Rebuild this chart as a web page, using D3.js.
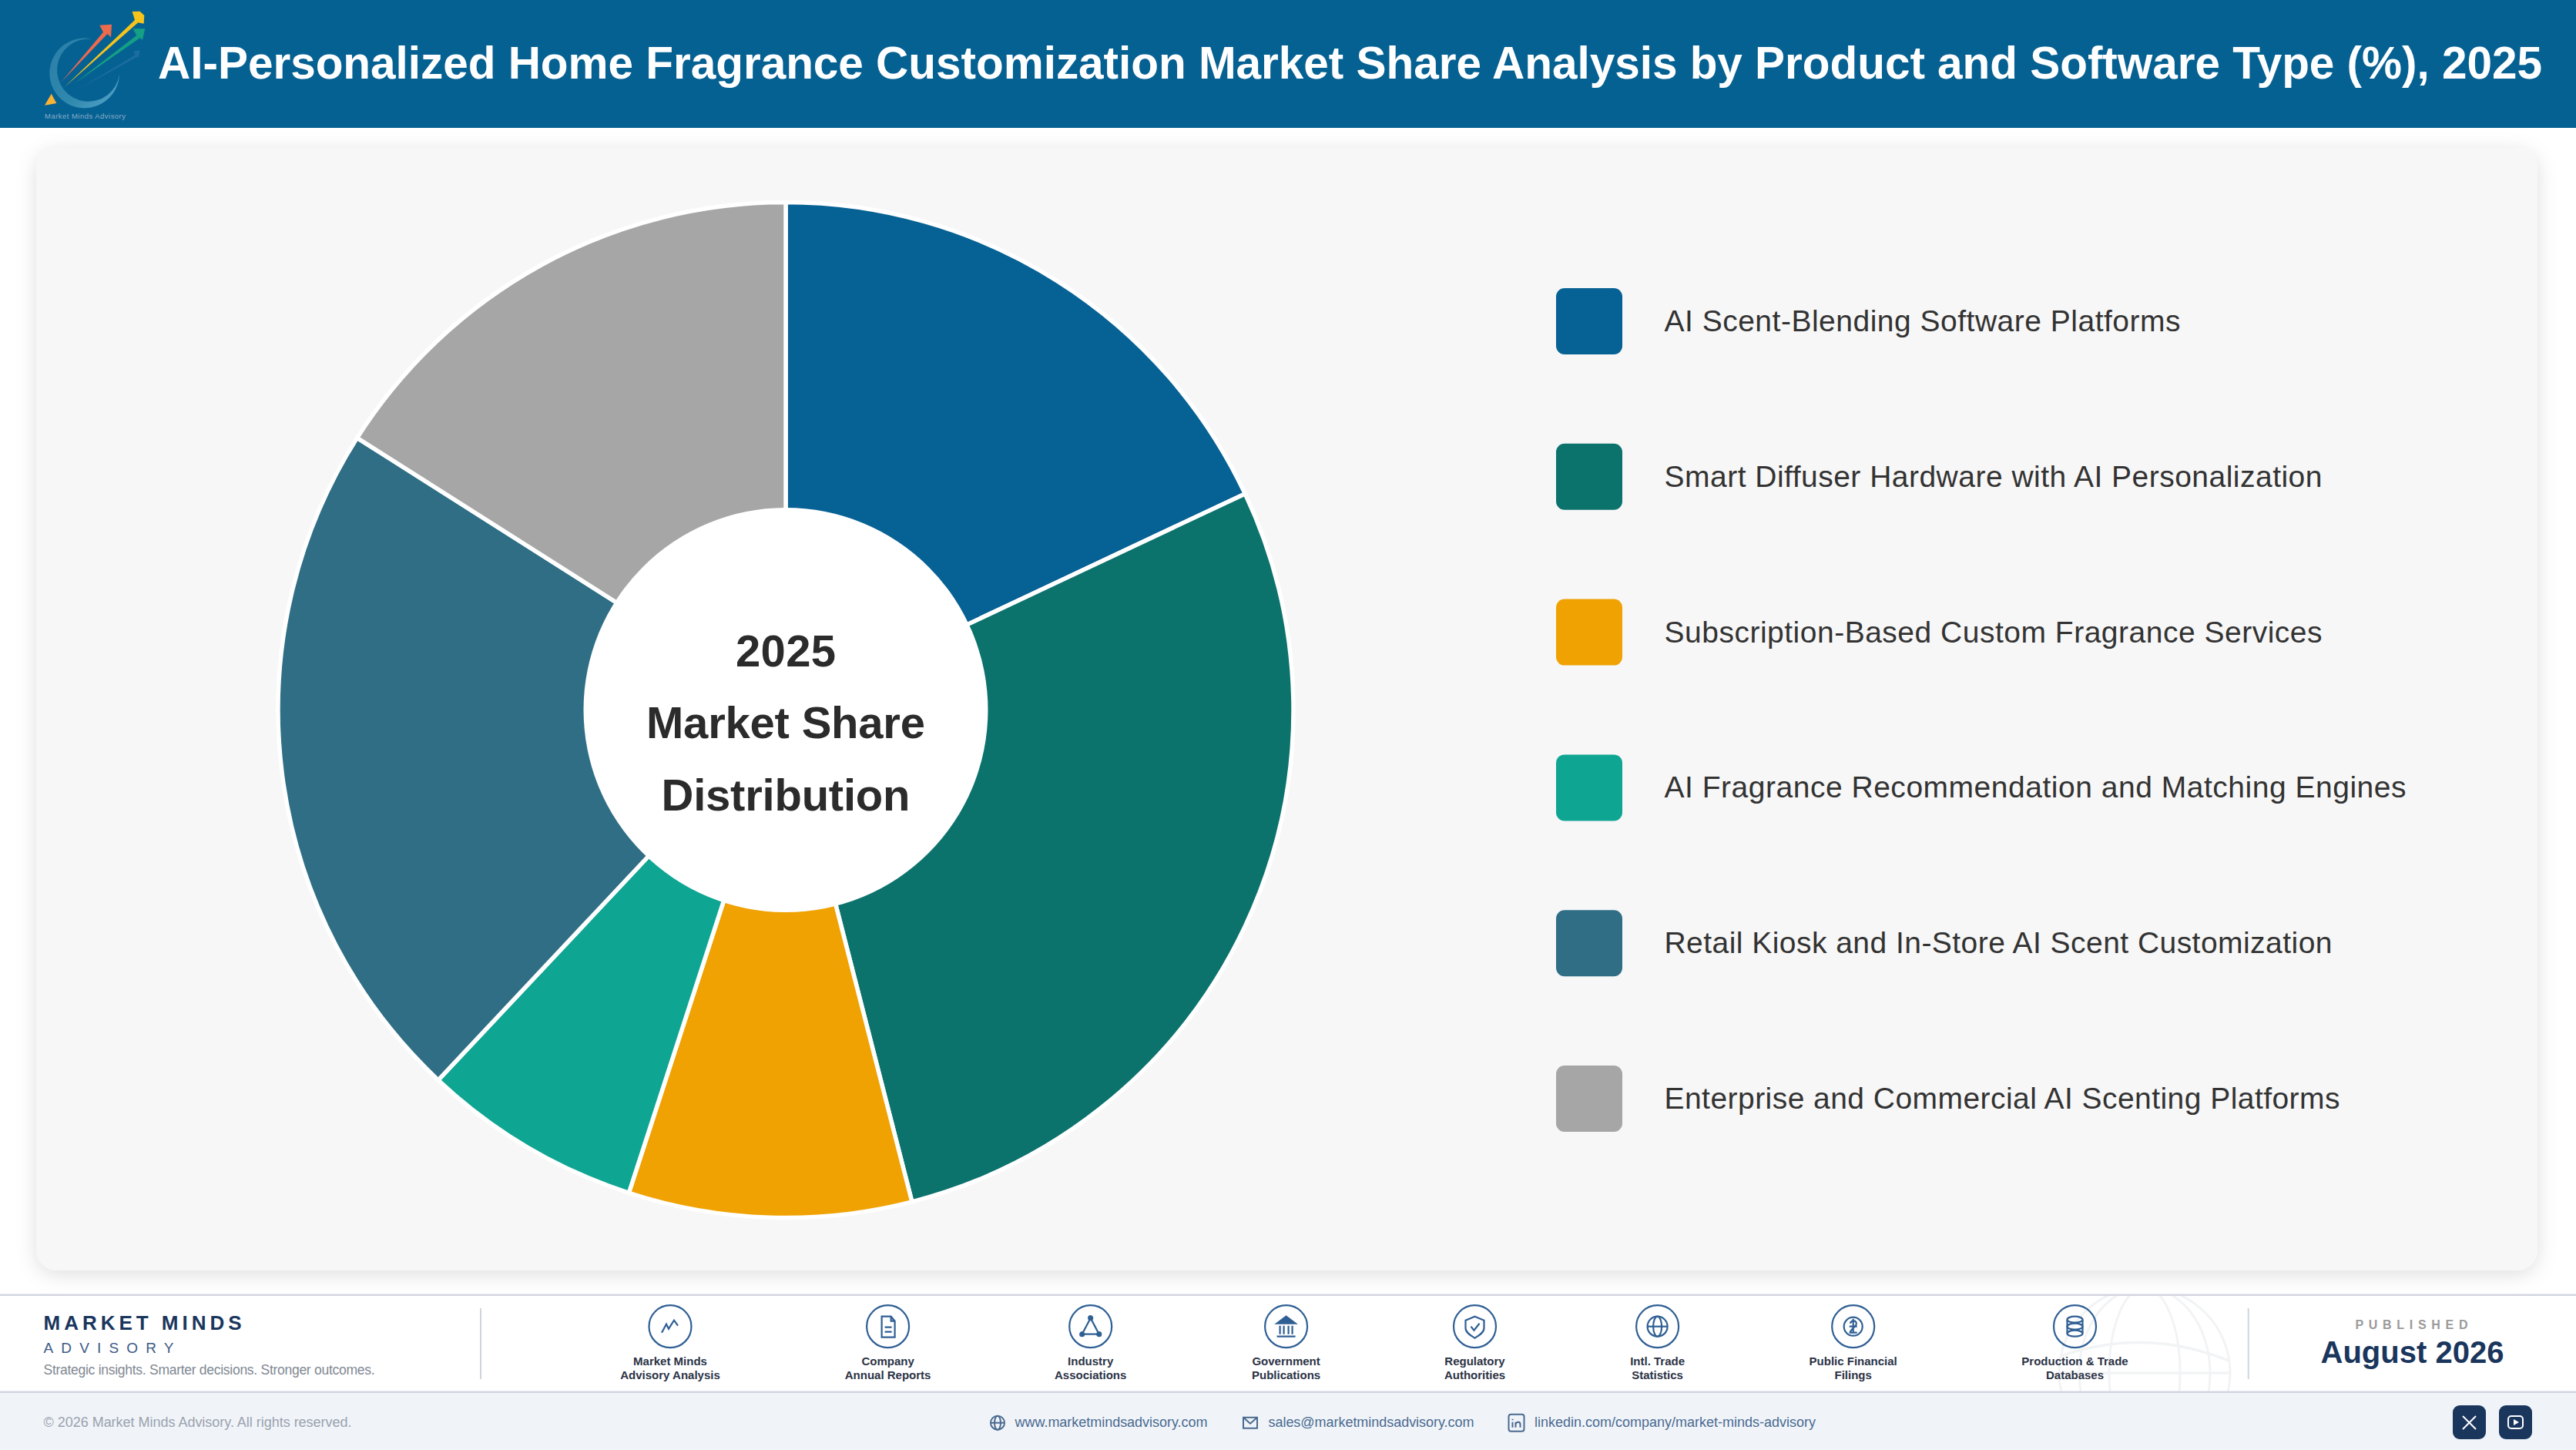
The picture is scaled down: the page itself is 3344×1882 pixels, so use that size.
<!DOCTYPE html>
<html><head><meta charset="utf-8">
<script src="https://cdn.jsdelivr.net/npm/d3@7/dist/d3.min.js"></script>
<style>html,body{margin:0;padding:0;background:#fff;overflow:hidden}svg{display:block}text{font-family:"Liberation Sans",Arial,sans-serif}</style>
</head><body><svg id="c" width="3344" height="1882" viewBox="0 0 3344 1882"></svg>
<script>
const categories=["AI Scent-Blending Software Platforms","Smart Diffuser Hardware with AI Personalization","Subscription-Based Custom Fragrance Services","AI Fragrance Recommendation and Matching Engines","Retail Kiosk and In-Store AI Scent Customization","Enterprise and Commercial AI Scenting Platforms"];
const shares=[18,28,9,7,22,16];
const sliceColors=["#066194","#0b726c","#f0a202","#0fa593","#2f6e85","#a6a6a6"];
const legendWidths=[670,854,854,963,867,877];
const titleText="AI-Personalized Home Fragrance Customization Market Share Analysis by Product and Software Type (%), 2025";
const centerLines=["2025","Market Share","Distribution"];
const centerWidths=[130,362,323];
const sourceLines=[["Market Minds","Advisory Analysis"],["Company","Annual Reports"],["Industry","Associations"],["Government","Publications"],["Regulatory","Authorities"],["Intl. Trade","Statistics"],["Public Financial","Filings"],["Production & Trade","Databases"]];
const sourceX=[870,1152.6,1415.7,1669.6,1914.5,2151.6,2405.7,2693.5];
const contacts=[["www.marketmindsadvisory.com",1317.5,250],["sales@marketmindsadvisory.com",1646.5,267],["linkedin.com/company/market-minds-advisory",1992,365]];

const svg=d3.select("#c");
const defs=svg.append("defs");
const f=defs.append("filter").attr("id","sh").attr("x","-5%").attr("y","-5%").attr("width","110%").attr("height","110%");
f.append("feDropShadow").attr("dx",0).attr("dy",5).attr("stdDeviation",13).attr("flood-color","#000").attr("flood-opacity",.13);
const lg=defs.append("linearGradient").attr("id","ring").attr("x1",0).attr("y1",0).attr("x2",1).attr("y2",1);
lg.append("stop").attr("offset",0).attr("stop-color","#2b7fa8");
lg.append("stop").attr("offset",.6).attr("stop-color","#2f88ad");
lg.append("stop").attr("offset",1).attr("stop-color","#5aa7cc");
defs.append("clipPath").attr("id","fc").append("rect").attr("y",1682).attr("width",3344).attr("height",124);
function T(g,s,x,y,size,fill,w,anchor,width){const t=g.append("text").text(s).attr("x",x).attr("y",y).attr("font-size",size).attr("fill",fill).attr("font-weight",w||400).attr("text-anchor",anchor||"start");if(width){t.attr("textLength",width).attr("lengthAdjust","spacing")}return t}

// header
svg.append("rect").attr("width",3344).attr("height",166).attr("fill","#066193");
T(svg,titleText,205,102,58.5,"#fff",700,"start",3095);
const logo=svg.append("g").attr("transform","scale(.3333)");
logo.append("path").attr("d","M358,152 A136,136 0 1 0 465,290 A122,122 0 1 1 358,152Z").attr("fill","url(#ring)");
logo.append("path").attr("d","M300,350 L525,215 L520,200 L545,195 L540,225 L533,222Z").attr("fill","#2a74a8").attr("opacity",.6);
logo.append("path").attr("d","M238,320 L402,125 L388,98 L435,95 L432,145 L418,132Z").attr("fill","#ee6a4d");
logo.append("path").attr("d","M290,325 L532,138 L518,112 L565,112 L555,155 L545,148Z").attr("fill","#14a084");
logo.append("path").attr("d","M250,340 L525,78 L515,45 L545,44 L562,60 L560,92 L538,88Z").attr("fill","#f7c41b");
logo.append("path").attr("d","M174,410 L200,365 L220,402Z").attr("fill","#f9b233");
T(svg,"Market Minds Advisory",58,154,9.5,"#86aec8",400,"start",105);

// panel
svg.append("rect").attr("x",47).attr("y",192).attr("width",3247).attr("height",1457).attr("rx",27).attr("fill","#f7f7f7").attr("filter","url(#sh)");

// pie
const cx=1020,cy=921.5,R=659,r0=262.5;
const pie=d3.pie().value(d=>d).sort(null);
const arc=d3.arc().innerRadius(0).outerRadius(R);
const pg=svg.append("g").attr("transform",`translate(${cx},${cy})`);
pg.selectAll("path").data(pie(shares)).join("path").attr("d",arc).attr("fill",(d,i)=>sliceColors[i]).attr("stroke","#fff").attr("stroke-width",5.5);
pg.append("circle").attr("r",r0).attr("fill","#fff");
const cy2=d3.scaleLinear().domain([0,2]).range([864.5,1051.5]);
centerLines.forEach((s,i)=>T(svg,s,cx,cy2(i),58,"#2b2b2b",700,"middle",centerWidths[i]));

// legend
const ly=d3.scaleLinear().domain([0,5]).range([417,1426]);
categories.forEach((c,i)=>{
 svg.append("rect").attr("x",2020).attr("y",ly(i)-43).attr("width",86).attr("height",86).attr("rx",11).attr("fill",sliceColors[i]);
 T(svg,c,2160.5,ly(i)+13,39,"#333",400,"start",legendWidths[i]);
});

// footer
svg.append("rect").attr("y",1681).attr("width",3344).attr("height",126).attr("fill","#fff");
const globe=svg.append("g").attr("clip-path","url(#fc)").attr("fill","none").attr("stroke","#f1f3f5").attr("stroke-width",3);
globe.append("circle").attr("cx",2784).attr("cy",1782).attr("r",111);
globe.append("ellipse").attr("cx",2784).attr("cy",1782).attr("rx",46).attr("ry",111);
globe.append("ellipse").attr("cx",2784).attr("cy",1782).attr("rx",85).attr("ry",111);
globe.append("path").attr("d","M2675,1760 Q2784,1722 2893,1766 M2673,1782 H2895").attr("stroke-width",3.5);
svg.append("rect").attr("y",1679.5).attr("width",3344).attr("height",2.5).attr("fill","#d3d6e2");
svg.append("rect").attr("y",1808).attr("width",3344).attr("height",74).attr("fill","#f0f4f9");
svg.append("rect").attr("y",1805.5).attr("width",3344).attr("height",2.5).attr("fill","#d3d6e2");
T(svg,"MARKET MINDS",56.5,1726,26,"#1a365d",700,"start",257);
T(svg,"ADVISORY",56.5,1756,19,"#3c5a86",400,"start",169);
T(svg,"Strategic insights. Smarter decisions. Stronger outcomes.",56.5,1784,17.5,"#808893",400,"start",430);
[624,2918.7].forEach(x=>svg.append("rect").attr("x",x-1).attr("y",1698).attr("width",2).attr("height",92).attr("fill","#d0d4da"));
T(svg,"PUBLISHED",3130.5,1725,16,"#9a9a9a",700,"middle",146);
T(svg,"August 2026",3131.5,1769,40,"#1a365d",700,"middle",238);

const ic="#2f5f94";
const icons=[
 g=>g.append("path").attr("d","M-11,8 L-5,-3 L-2,3 L5,-8 L10,-1"),
 g=>{g.append("path").attr("d","M-8,-13 L4,-13 L9,-7 L9,14 L-8,14Z M4,-13 L4,-7 L9,-7 M-4,1 L5,1 M-4,7 L5,7")},
 g=>{g.append("path").attr("d","M0,-11 L-11,10 L11,10Z");[[0,-11],[-11,10],[11,10]].forEach(p=>g.append("circle").attr("cx",p[0]).attr("cy",p[1]).attr("r",2.5).attr("fill",ic))},
 g=>{g.append("path").attr("d","M0,-13 L12,-4 L-12,-4Z").attr("fill",ic);g.append("path").attr("d","M-8,-1 V10 M-3,-1 V10 M3,-1 V10 M8,-1 V10 M-12,13 H12")},
 g=>{g.append("path").attr("d","M0,-13 L12,-8 L12,2 C12,8 5,12 0,15 C-5,12 -12,8 -12,2 L-12,-8Z M-5,0 L-1,5 L6,-4")},
 g=>{g.append("circle").attr("r",13);g.append("ellipse").attr("rx",5.5).attr("ry",13);g.append("path").attr("d","M-13,0 H13")},
 g=>{g.append("circle").attr("r",12);g.append("path").attr("d","M-4,-4 C-2,-9 5,-8 4,-3 C3,1 -4,4 -4,8 H5 M-5,0 H5 M0,-10 V9")},
 g=>{g.append("ellipse").attr("cy",-9).attr("rx",10).attr("ry",4);g.append("ellipse").attr("cy",0).attr("rx",10).attr("ry",4);g.append("ellipse").attr("cy",9).attr("rx",10).attr("ry",4);g.append("path").attr("d","M-10,-9 V9 M10,-9 V9")}
];
sourceX.forEach((x,i)=>{
 const g=svg.append("g").attr("transform",`translate(${x},1721.7)`).attr("fill","none").attr("stroke",ic).attr("stroke-width",2.2);
 g.append("circle").attr("r",27.5);
 icons[i](g);
 sourceLines[i].forEach((s,j)=>T(svg,s,x,1771.7+j*18,15,"#2b3245",700,"middle"));
});

T(svg,"© 2026 Market Minds Advisory. All rights reserved.",56.5,1851.7,18,"#9aa2ae",400,"start",400);
contacts.forEach(c=>T(svg,c[0],c[1],1851.7,18,"#4a6a90",400,"start",c[2]));
const cg=svg.append("g").attr("fill","none").attr("stroke","#4a6a90").attr("stroke-width",2);
const g1=cg.append("g").attr("transform","translate(1295,1846.7)");
g1.append("circle").attr("r",9);g1.append("ellipse").attr("rx",4).attr("ry",9);g1.append("path").attr("d","M-9,0 H9");
cg.append("g").attr("transform","translate(1623,1846.7)").append("path").attr("d","M-9,-7 H9 V7 H-9Z M-9,-7 L0,1 L9,-7");
const g3=cg.append("g").attr("transform","translate(1968.5,1846.7)");
g3.append("rect").attr("x",-10).attr("y",-11).attr("width",20).attr("height",22).attr("rx",3);
g3.append("path").attr("d","M-5,-1 V6 M-5,-5 V-3.5 M-1,6 V-1 M-1,2 C0,-2 5,-2 5,2 V6");
[3184,3244].forEach(x=>svg.append("rect").attr("x",x).attr("y",1824).attr("width",43).attr("height",44).attr("rx",9).attr("fill","#1a365d"));
svg.append("path").attr("d","M3197,1838 L3214,1855 M3214,1838 L3197,1855").attr("stroke","#fff").attr("stroke-width",2).attr("fill","none");
svg.append("rect").attr("x",3256).attr("y",1838).attr("width",19).attr("height",16).attr("rx",4).attr("fill","none").attr("stroke","#fff").attr("stroke-width",2);
svg.append("path").attr("d","M3263,1842 L3270,1846 L3263,1850Z").attr("fill","#fff");
</script></body></html>
